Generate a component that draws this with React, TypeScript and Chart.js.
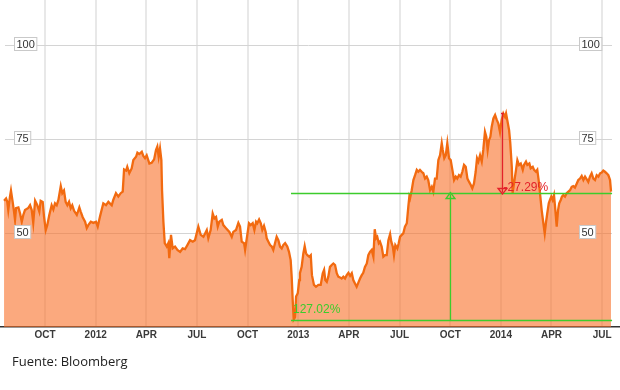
import React, { useEffect, useRef } from 'react';
import { Chart, registerables } from 'chart.js';

Chart.register(...registerables);

// x = months since 1 Jul 2011
const months = [
  0.57, 0.69, 0.76, 0.82, 0.92, 0.98, 1.08, 1.16, 1.22, 1.28, 1.42, 1.52, 1.62, 1.71, 1.81, 2.01, 2.11, 2.21, 2.30, 2.41,
  2.54, 2.66, 2.74, 2.86, 2.94, 3.04, 3.13, 3.25, 3.39, 3.49, 3.59, 3.69, 3.79, 3.93, 4.02, 4.12, 4.22, 4.32, 4.42, 4.52,
  4.61, 4.72, 4.88, 5.03, 5.11, 5.23, 5.37, 5.47, 5.56, 5.71, 5.86, 6.02, 6.12, 6.26, 6.45, 6.61, 6.75, 6.95, 7.04, 7.20,
  7.34, 7.48, 7.60, 7.68, 7.80, 7.87, 7.99, 8.13, 8.23, 8.39, 8.47, 8.58, 8.73, 8.82, 8.92, 9.02, 9.18, 9.32, 9.46, 9.57,
  9.65, 9.73, 9.81, 9.89, 9.93, 10.01, 10.09, 10.21, 10.30, 10.36, 10.46, 10.56, 10.70, 10.84, 11.00, 11.15, 11.29, 11.43, 11.59, 11.75,
  11.88, 12.08, 12.22, 12.38, 12.48, 12.58, 12.67, 12.81, 12.93, 13.03, 13.13, 13.23, 13.32, 13.47, 13.56, 13.72, 13.92, 14.06, 14.15, 14.31,
  14.45, 14.55, 14.65, 14.79, 14.85, 14.95, 15.08, 15.18, 15.30, 15.40, 15.50, 15.57, 15.68, 15.78, 15.87, 15.97, 16.07, 16.13, 16.23, 16.33,
  16.43, 16.52, 16.62, 16.72, 16.82, 16.92, 17.02, 17.11, 17.22, 17.35, 17.45, 17.55, 17.61, 17.67, 17.73, 17.81, 17.87, 17.97, 18.06, 18.10,
  18.20, 18.30, 18.38, 18.46, 18.54, 18.65, 18.74, 18.81, 18.93, 19.05, 19.19, 19.33, 19.45, 19.53, 19.60, 19.69, 19.78, 19.88, 19.98, 20.08,
  20.18, 20.28, 20.37, 20.47, 20.57, 20.67, 20.77, 20.87, 20.97, 21.07, 21.17, 21.26, 21.36, 21.46, 21.56, 21.66, 21.76, 21.85, 21.95, 22.06,
  22.15, 22.25, 22.35, 22.45, 22.53, 22.61, 22.68, 22.77, 22.84, 22.94, 23.04, 23.14, 23.24, 23.34, 23.44, 23.51, 23.60, 23.67, 23.75, 23.87,
  23.95, 24.03, 24.13, 24.22, 24.32, 24.43, 24.52, 24.58, 24.62, 24.72, 24.82, 24.92, 25.02, 25.11, 25.21, 25.31, 25.41, 25.51, 25.61, 25.70,
  25.81, 25.91, 26.00, 26.10, 26.20, 26.30, 26.40, 26.50, 26.56, 26.65, 26.74, 26.83, 26.93, 27.03, 27.13, 27.23, 27.33, 27.42, 27.52, 27.62,
  27.72, 27.82, 27.92, 28.02, 28.12, 28.22, 28.31, 28.41, 28.51, 28.59, 28.67, 28.77, 28.87, 28.96, 29.06, 29.14, 29.22, 29.30, 29.38, 29.46,
  29.56, 29.66, 29.76, 29.85, 29.95, 30.05, 30.15, 30.25, 30.31, 30.38, 30.49, 30.56, 30.65, 30.70, 30.78, 30.90, 30.98, 31.08, 31.18, 31.30,
  31.37, 31.49, 31.57, 31.69, 31.77, 31.89, 31.97, 32.08, 32.16, 32.24, 32.32, 32.42, 32.52, 32.60, 32.68, 32.75, 32.84, 32.91, 32.99, 33.07,
  33.15, 33.23, 33.31, 33.39, 33.46, 33.55, 33.62, 33.70, 33.80, 33.90, 34.00, 34.10, 34.20, 34.29, 34.39, 34.50, 34.59, 34.69, 34.79, 34.89,
  34.99, 35.09, 35.18, 35.28, 35.38, 35.48, 35.58, 35.68, 35.78, 35.88, 35.98, 36.07, 36.17, 36.27, 36.37, 36.47, 36.53,
];

const prices = [
  58.6, 59.2, 58.3, 56.1, 59.7, 61.3, 58.3, 55.7, 53.5, 56.6, 56.8, 55.2, 53.0, 54.8, 56.1, 56.7, 57.4, 56.1, 52.7, 58.6,
  57.4, 55.7, 58.6, 58.3, 54.3, 50.8, 52.1, 54.8, 57.4, 56.3, 57.9, 57.4, 58.8, 62.5, 60.6, 61.3, 58.3, 57.4, 58.3, 56.6,
  57.4, 55.9, 54.8, 56.8, 55.7, 54.2, 53.0, 51.3, 52.1, 53.0, 52.7, 53.0, 51.7, 54.5, 57.9, 57.4, 58.3, 57.4, 58.8, 60.6,
  59.7, 60.6, 61.0, 66.9, 66.6, 67.6, 65.9, 67.2, 69.4, 70.3, 71.4, 71.0, 71.6, 70.5, 69.9, 70.7, 68.5, 68.7, 69.6, 72.1,
  73.0, 70.3, 72.5, 69.4, 61.4, 53.0, 47.3, 46.4, 47.3, 43.3, 49.5, 45.9, 46.4, 45.5, 45.0, 45.9, 45.7, 46.8, 48.1, 47.7,
  48.1, 51.7, 49.5, 49.0, 49.9, 50.8, 48.6, 50.8, 55.2, 53.9, 54.3, 51.7, 53.0, 53.5, 52.1, 51.3, 50.3, 49.0, 50.3, 50.8,
  52.7, 51.7, 47.7, 47.3, 45.5, 48.6, 52.6, 52.1, 52.6, 50.8, 53.0, 52.6, 53.6, 52.6, 50.8, 51.9, 50.3, 48.6, 47.7, 46.8,
  46.4, 45.5, 47.3, 49.0, 48.1, 46.4, 45.9, 46.8, 47.3, 46.4, 45.0, 42.8, 38.4, 32.2, 27.0, 27.6, 33.1, 34.0, 37.5, 39.3,
  41.0, 44.6, 46.5, 44.6, 44.1, 43.7, 44.1, 38.8, 36.2, 35.7, 36.2, 36.2, 39.3, 40.2, 37.5, 37.0, 38.4, 41.0, 41.5, 41.9,
  41.5, 39.3, 38.4, 38.2, 37.9, 38.4, 37.9, 38.8, 39.4, 38.6, 39.3, 37.5, 36.6, 35.7, 36.8, 37.9, 38.8, 39.4, 41.0, 41.9,
  44.1, 45.0, 45.5, 43.7, 51.0, 48.6, 49.0, 47.3, 47.7, 46.4, 43.7, 44.1, 44.1, 48.1, 49.7, 47.7, 46.4, 44.1, 46.8, 45.9,
  47.3, 49.0, 49.5, 49.9, 51.7, 52.6, 57.0, 59.7, 59.2, 61.4, 64.1, 65.4, 66.8, 66.3, 66.8, 66.3, 65.9, 64.5, 65.0, 64.1,
  61.4, 62.3, 61.0, 64.5, 64.5, 69.4, 70.7, 73.9, 72.1, 69.9, 70.7, 73.9, 69.9, 69.4, 66.8, 64.1, 65.0, 64.5, 65.4, 65.0,
  66.3, 68.1, 67.6, 64.5, 63.6, 62.8, 61.9, 63.2, 66.3, 69.9, 69.0, 70.7, 69.0, 72.1, 76.9, 75.6, 72.1, 74.7, 75.6, 78.3,
  80.5, 81.4, 80.1, 79.2, 76.9, 80.1, 81.8, 80.9, 81.8, 80.1, 77.4, 73.9, 67.6, 60.6, 63.2, 66.8, 69.4, 68.1, 68.5, 66.8,
  68.1, 69.0, 68.1, 68.5, 67.2, 67.6, 66.8, 66.3, 66.8, 64.1, 60.6, 56.1, 52.6, 49.9, 53.0, 55.2, 57.9, 58.8, 59.7, 58.8,
  60.1, 56.1, 51.7, 56.1, 57.9, 58.8, 59.7, 60.1, 59.7, 60.6, 61.0, 61.4, 62.3, 62.5, 62.1, 63.2, 64.1, 64.5, 65.2, 64.1,
  65.0, 64.3, 63.6, 65.0, 65.9, 64.5, 64.1, 65.4, 65.0, 65.9, 66.1, 66.6, 66.3, 65.9, 65.4, 64.1, 61.0,
];

const tickMonths = [3, 6, 9, 12, 15, 18, 21, 24, 27, 30, 33, 36];
const tickLabels = ['OCT', '2012', 'APR', 'JUL', 'OCT', '2013', 'APR', 'JUL', 'OCT', '2014', 'APR', 'JUL'];
const yTicks = [50, 75, 100];

// annotation values
const rangeStartMonth = 17.57;
const rangeEndMonth = 36.59;
const lowValue = 26.8;
const highValue = 60.7;
const peakValue = 81.8;
const riseMonth = 26.99;
const fallMonth = 30.07;
const riseLabel = '127.02%';
const fallLabel = '-27.29%';
const sourceNote = 'Fuente: Bloomberg';

const GREEN = '#3ccc2c';
const RED = '#e3222a';

const overlay = {
  id: 'overlay',
  beforeDatasetsDraw(chart: any) {
    const { ctx, scales } = chart;
    const x = scales.x;
    const y = scales.y;
    ctx.save();
    ctx.strokeStyle = '#d4d4d4';
    ctx.lineWidth = 1;
    for (const v of yTicks) {
      const py = Math.round(y.getPixelForValue(v)) + 0.5;
      ctx.beginPath();
      ctx.moveTo(x.left + 5, py);
      ctx.lineTo(x.right - 8, py);
      ctx.stroke();
    }
    ctx.restore();
  },
  afterDatasetsDraw(chart: any) {
    const { ctx, scales } = chart;
    const x = scales.x;
    const y = scales.y;
    ctx.save();

    // green range lines
    const xs = x.getPixelForValue(rangeStartMonth);
    const xe = x.getPixelForValue(rangeEndMonth);
    const yLow = Math.round(y.getPixelForValue(lowValue)) + 0.5;
    const yHigh = Math.round(y.getPixelForValue(highValue)) + 0.5;
    ctx.strokeStyle = GREEN;
    ctx.lineWidth = 1.3;
    ctx.beginPath();
    ctx.moveTo(xs, yHigh);
    ctx.lineTo(xe, yHigh);
    ctx.moveTo(xs, yLow);
    ctx.lineTo(xe, yLow);
    const gx = Math.round(x.getPixelForValue(riseMonth)) + 0.5;
    ctx.moveTo(gx, yLow);
    ctx.lineTo(gx, yHigh + 1);
    ctx.stroke();
    // green arrow head (open, pointing up)
    ctx.beginPath();
    ctx.moveTo(gx, yHigh - 1);
    ctx.lineTo(gx - 4.5, yHigh + 5);
    ctx.lineTo(gx + 4.5, yHigh + 5);
    ctx.closePath();
    ctx.stroke();

    // red drop line
    const rx = Math.round(x.getPixelForValue(fallMonth)) + 0.5;
    const yPeak = y.getPixelForValue(peakValue);
    ctx.strokeStyle = RED;
    ctx.lineWidth = 1.3;
    ctx.beginPath();
    ctx.moveTo(rx - 1.5, yPeak);
    ctx.lineTo(rx + 1.5, yPeak);
    ctx.moveTo(rx, yPeak);
    ctx.lineTo(rx, yHigh - 1);
    ctx.stroke();
    ctx.beginPath();
    ctx.moveTo(rx, yHigh + 0.5);
    ctx.lineTo(rx - 4.5, yHigh - 5);
    ctx.lineTo(rx + 4.5, yHigh - 5);
    ctx.closePath();
    ctx.stroke();

    // labels
    ctx.font = '12px "Liberation Sans", Arial, sans-serif';
    ctx.textBaseline = 'middle';
    ctx.textAlign = 'left';
    ctx.fillStyle = RED;
    ctx.fillText(fallLabel, rx + 1, yHigh - 6);
    ctx.fillStyle = GREEN;
    ctx.fillText(riseLabel, xs + 2, yLow - 11);

    // y tick boxes, both sides
    ctx.font = '11px "Liberation Sans", Arial, sans-serif';
    for (const v of yTicks) {
      const py = Math.round(y.getPixelForValue(v)) - 1;
      const label = String(v);
      const w = ctx.measureText(label).width + 4;
      for (const bx of [x.left + 14.5, x.right - 40.5]) {
        ctx.fillStyle = '#ffffff';
        ctx.fillRect(bx, py - 6.5, w, 13);
        ctx.strokeStyle = '#c9c9c9';
        ctx.lineWidth = 1;
        ctx.strokeRect(bx, py - 6.5, w, 13);
        ctx.fillStyle = '#333333';
        ctx.fillText(label, bx + 2, py + 0.5);
      }
    }
    ctx.restore();
  },
};

export default function App() {
  const canvasRef = useRef<HTMLCanvasElement | null>(null);

  useEffect(() => {
    const canvas = canvasRef.current;
    if (!canvas) return;
    const chart = new Chart(canvas, {
      type: 'line',
      data: {
        datasets: [
          {
            data: months.map((m, i) => ({ x: m, y: prices[i] })),
            borderColor: '#f26a10',
            borderWidth: 2.3,
            backgroundColor: 'rgba(248,112,40,0.6)',
            fill: 'start',
            pointRadius: 0,
            tension: 0,
          },
        ],
      },
      options: {
        responsive: false,
        animation: false,
        devicePixelRatio: 1,
        layout: { padding: 0 },
        plugins: { legend: { display: false }, tooltip: { enabled: false } },
        scales: {
          x: {
            type: 'linear',
            min: 0.33,
            max: 37.06,
            afterBuildTicks: (s: any) => {
              s.ticks = tickMonths.map((v) => ({ value: v }));
            },
            afterFit: (s: any) => {
              s.height = 63;
            },
            grid: { color: '#e8e8e8', lineWidth: 2, drawTicks: false },
            border: { display: true, color: '#333333', width: 1.5 },
            ticks: {
              autoSkip: false,
              maxRotation: 0,
              padding: 2,
              color: '#3a3a3a',
              font: { family: '"Liberation Sans", Arial, sans-serif', size: 10, weight: 'bold' },
              callback: (v: any) => tickLabels[tickMonths.indexOf(Number(v))] ?? '',
            },
          },
          y: { type: 'linear', min: 25, max: 112, display: false },
        },
      },
      plugins: [overlay],
    } as any);
    return () => chart.destroy();
  }, []);

  return (
    <div style={{ position: 'absolute', left: 0, top: 0, width: 620, height: 390, background: '#fff' }}>
      <canvas ref={canvasRef} width={620} height={390} style={{ display: 'block' }} />
      <div
        style={{
          position: 'absolute',
          left: 12,
          top: 352,
          font: '13px "Open Sans", sans-serif',
          lineHeight: '18px',
          color: '#222',
          whiteSpace: 'nowrap',
        }}
      >
        {sourceNote}
      </div>
    </div>
  );
}
